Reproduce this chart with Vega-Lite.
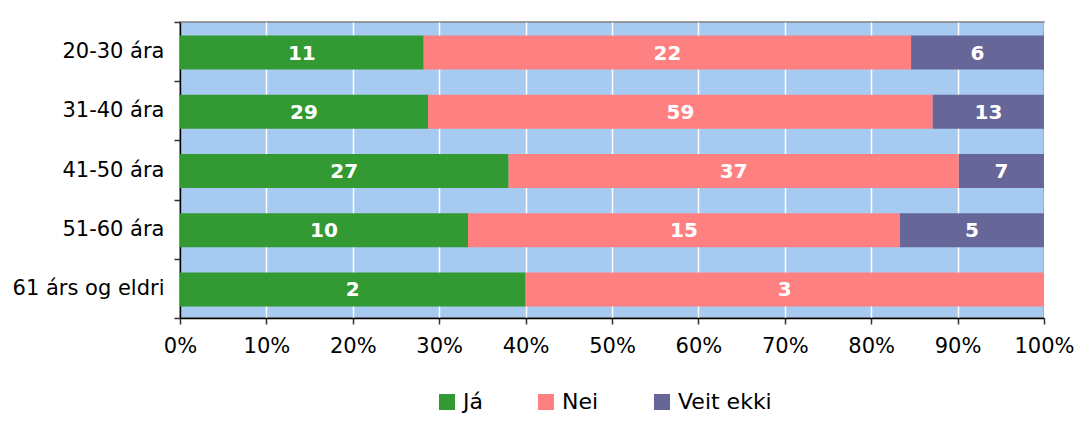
{
  "$schema": "https://vega.github.io/schema/vega-lite/v6.json",
  "width": 864,
  "height": 296,
  "autosize": "none",
  "padding": {"left": 180, "top": 22, "right": 43, "bottom": 108},
  "background": "white",
  "config": {
    "font": "DejaVu Sans",
    "view": {"fill": "#A6CAF0", "stroke": "#808080", "strokeWidth": 1.5}
  },
  "data": {
    "values": [
      {"age": "20-30 ára", "svar": "Já", "o": 1, "n": 11},
      {"age": "20-30 ára", "svar": "Nei", "o": 2, "n": 22},
      {"age": "20-30 ára", "svar": "Veit ekki", "o": 3, "n": 6},
      {"age": "31-40 ára", "svar": "Já", "o": 1, "n": 29},
      {"age": "31-40 ára", "svar": "Nei", "o": 2, "n": 59},
      {"age": "31-40 ára", "svar": "Veit ekki", "o": 3, "n": 13},
      {"age": "41-50 ára", "svar": "Já", "o": 1, "n": 27},
      {"age": "41-50 ára", "svar": "Nei", "o": 2, "n": 37},
      {"age": "41-50 ára", "svar": "Veit ekki", "o": 3, "n": 7},
      {"age": "51-60 ára", "svar": "Já", "o": 1, "n": 10},
      {"age": "51-60 ára", "svar": "Nei", "o": 2, "n": 15},
      {"age": "51-60 ára", "svar": "Veit ekki", "o": 3, "n": 5},
      {"age": "61 árs og eldri", "svar": "Já", "o": 1, "n": 2},
      {"age": "61 árs og eldri", "svar": "Nei", "o": 2, "n": 3}
    ]
  },
  "transform": [
    {"stack": "n", "groupby": ["age"], "sort": [{"field": "o", "order": "ascending"}], "offset": "normalize", "as": ["x0", "x1"]},
    {"calculate": "(datum.x0 + datum.x1) / 2", "as": "xm"}
  ],
  "encoding": {
    "y": {
      "field": "age",
      "type": "nominal",
      "sort": ["20-30 ára", "31-40 ára", "41-50 ára", "51-60 ára", "61 árs og eldri"],
      "scale": {"paddingInner": 0, "paddingOuter": 0},
      "axis": {
        "title": null,
        "tickBand": "extent",
        "grid": false,
        "labelFontSize": 21,
        "labelColor": "black",
        "domainColor": "black",
        "domainWidth": 1.5,
        "tickColor": "#333333",
        "tickSize": 6,
        "tickWidth": 1.5,
        "labelPadding": 10
      }
    }
  },
  "layer": [
    {
      "mark": {"type": "bar", "height": {"band": 0.575}, "yOffset": 1},
      "encoding": {
        "x": {
          "field": "x0",
          "type": "quantitative",
          "scale": {"domain": [0, 1], "nice": false, "zero": true},
          "axis": {
            "title": null,
            "format": "%",
            "values": [0, 0.1, 0.2, 0.3, 0.4, 0.5, 0.6, 0.7, 0.8, 0.9, 1],
            "grid": true,
            "gridColor": "white",
            "gridWidth": 1.5,
            "labelFontSize": 21,
            "labelColor": "black",
            "domainColor": "black",
            "domainWidth": 1.5,
            "tickColor": "#333333",
            "tickSize": 6,
            "tickWidth": 1.5,
            "labelPadding": 11,
            "labelFlush": false
          }
        },
        "x2": {"field": "x1"},
        "color": {
          "field": "svar",
          "type": "nominal",
          "sort": ["Já", "Nei", "Veit ekki"],
          "scale": {"domain": ["Já", "Nei", "Veit ekki"], "range": ["#339933", "#FF8080", "#666699"]},
          "legend": {
            "title": null,
            "orient": "none",
            "legendX": 256,
            "legendY": 369,
            "direction": "horizontal",
            "symbolType": "square",
            "symbolSize": 256,
            "symbolStrokeWidth": 0,
            "labelFontSize": 22,
            "labelColor": "black",
            "labelOffset": 5,
            "columnPadding": 52,
            "padding": 0
          }
        }
      }
    },
    {
      "mark": {"type": "text", "color": "white", "fontWeight": "bold", "fontSize": 20, "baseline": "middle", "dy": 2},
      "encoding": {
        "x": {"field": "xm", "type": "quantitative"},
        "text": {"field": "n", "type": "quantitative"}
      }
    }
  ]
}
